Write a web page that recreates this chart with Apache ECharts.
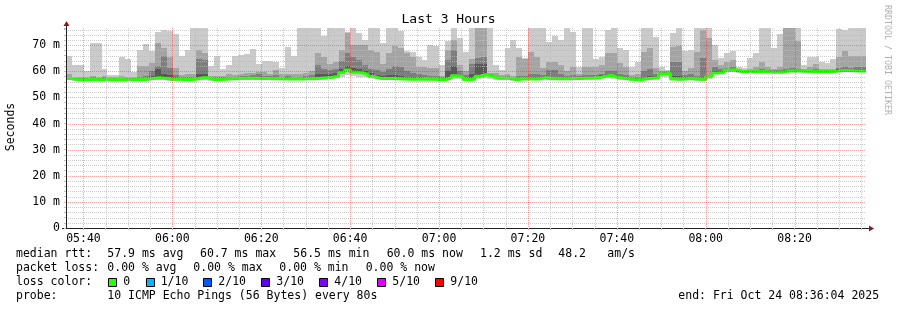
<!DOCTYPE html>
<html><head><meta charset="utf-8">
<script src="https://cdn.jsdelivr.net/npm/echarts@6/dist/echarts.min.js"></script>
<style>html,body{margin:0;padding:0;background:#fff}#c{width:897px;height:310px}</style>
</head><body><div id="c"></div>
<script>
// ---- data (SmokePing, 10 pings per 80 s step, values in ms) ----
const startLabel = '05:36:04';
const stepSeconds = 80;
const xTickLabels = ['05:40','06:00','06:20','06:40','07:00','07:20','07:40','08:00','08:20'];
const yTickLabels = ['0','10 m','20 m','30 m','40 m','50 m','60 m','70 m'];
// highest ping (outer smoke top)
const pingMax = [66.0,62.4,62.4,60.0,70.9,70.9,61.0,58.5,58.6,65.5,64.6,59.8,68.0,70.4,67.7,75.0,75.9,75.5,74.4,65.8,68.0,76.5,76.5,76.5,62.0,65.8,61.0,62.6,66.0,66.3,66.5,68.5,62.8,64.0,64.0,63.7,61.2,69.4,66.0,76.5,76.5,76.5,76.5,73.4,76.5,76.5,76.5,75.0,76.5,74.6,72.0,76.5,76.5,71.0,76.5,76.5,75.5,67.8,67.5,65.4,64.4,70.2,69.8,62.6,71.6,76.5,72.9,67.5,76.5,76.5,76.5,76.5,62.5,60.5,68.8,72.0,68.8,65.0,76.5,76.5,76.5,71.4,73.7,72.0,76.5,75.2,61.8,76.5,76.5,64.7,65.4,75.9,76.5,68.8,68.2,61.8,63.7,76.5,76.5,73.3,61.5,60.5,74.6,76.5,67.8,68.2,76.5,76.5,76.5,70.0,65.0,66.9,67.8,61.8,61.4,65.0,67.2,76.5,76.5,68.8,74.3,76.5,76.5,76.5,62.5,65.6,65.6,63.7,63.1,64.7,76.2,75.9,76.5,76.5,76.5];
// 9th ping
const ping9 = [58.8,58.0,58.0,58.0,58.2,58.0,58.2,57.8,57.8,58.3,58.0,58.0,62.0,62.0,63.2,71.0,68.8,65.6,61.2,58.5,59.0,58.8,68.0,67.2,58.4,58.2,58.4,58.8,58.6,58.8,59.2,59.5,59.9,59.8,59.0,60.4,58.8,59.0,58.8,58.8,59.2,60.3,66.9,65.6,62.7,63.5,68.2,74.6,70.1,70.1,70.1,68.2,67.5,63.0,66.9,69.8,68.8,66.9,65.6,61.8,61.8,61.4,61.2,58.4,68.2,72.0,62.5,60.0,64.6,76.5,76.5,59.2,59.2,58.6,58.8,58.4,65.6,64.8,67.5,65.6,61.2,63.7,63.7,62.5,60.0,61.8,59.0,61.8,61.8,61.8,62.5,66.9,66.9,63.1,61.8,58.6,58.8,67.5,68.8,61.2,60.0,60.0,69.4,69.8,60.0,61.2,67.5,75.9,72.7,64.4,62.5,63.5,64.4,60.8,60.6,61.0,61.5,63.7,61.8,61.0,61.8,76.5,76.5,71.6,61.0,61.8,62.7,61.0,60.8,61.0,65.6,67.8,66.0,66.0,66.0];
// 8th ping
const ping8 = [58.0,57.6,57.5,57.6,57.7,57.6,57.7,57.5,57.5,57.6,57.6,57.6,58.0,58.2,60.0,62.0,66.0,61.2,58.5,57.8,58.0,58.0,64.6,64.4,57.8,57.7,57.8,58.0,58.0,58.2,58.4,58.6,58.8,58.4,58.2,58.6,58.0,58.2,58.0,58.0,58.2,58.6,62.5,61.0,60.5,61.0,64.0,67.0,65.6,64.4,62.5,61.0,60.5,59.8,61.0,62.0,61.5,60.0,59.5,59.0,58.6,58.4,58.4,57.8,64.4,68.2,60.0,58.6,62.7,65.0,65.6,58.8,58.4,58.0,58.2,57.6,58.2,58.4,59.0,58.8,58.6,60.5,60.5,59.0,58.4,58.6,58.2,58.6,58.6,58.6,59.0,60.0,60.0,59.0,58.6,57.8,57.9,60.0,61.0,59.0,59.6,59.8,63.5,63.5,58.6,59.0,58.4,65.0,58.6,61.8,61.0,61.4,61.6,60.4,60.4,60.5,60.6,60.8,60.6,60.5,60.6,61.0,61.2,61.0,60.6,60.6,60.8,60.5,60.5,60.6,61.2,61.8,61.4,61.8,61.8];
// 7th ping
const ping7 = [57.7,57.2,57.2,57.2,57.2,57.2,57.3,57.2,57.2,57.2,57.2,57.2,57.4,57.5,58.4,60.8,59.0,58.5,57.8,57.3,57.4,57.5,59.0,58.8,57.3,57.3,57.4,57.6,57.6,57.8,57.9,58.0,58.0,57.8,57.7,57.8,57.6,57.7,57.6,57.6,57.7,57.9,58.8,58.8,59.0,59.3,60.8,62.0,61.2,61.0,60.3,59.4,58.6,58.3,58.5,58.6,58.4,58.0,57.8,57.7,57.6,57.6,57.5,57.3,60.0,62.0,58.6,57.6,58.8,62.7,63.0,58.4,57.8,57.7,57.8,57.2,57.6,57.6,57.8,57.7,58.0,58.0,58.0,57.8,57.7,57.8,57.7,57.8,57.8,57.9,58.5,59.0,58.6,58.0,57.6,57.3,57.3,58.0,58.2,58.2,59.3,59.5,58.4,58.2,57.7,57.8,57.6,58.0,58.4,60.0,60.2,60.9,61.0,60.2,60.2,60.2,60.3,60.3,60.2,60.1,60.1,60.6,60.6,60.5,60.3,60.3,60.3,60.2,60.2,60.3,60.8,60.9,60.7,60.8,60.8];
// median rtt
const median = [57.3,56.8,56.8,56.9,56.9,56.8,56.9,56.8,56.9,56.8,56.8,56.9,56.9,57.0,57.4,57.5,57.3,57.0,57.0,56.9,56.9,57.0,57.5,57.5,56.9,56.9,57.0,57.2,57.2,57.4,57.4,57.4,57.3,57.3,57.2,57.3,57.1,57.1,57.1,57.1,57.2,57.2,57.4,57.5,57.7,58.1,59.6,60.5,59.7,59.5,58.8,58.0,57.4,57.3,57.3,57.2,57.1,57.0,57.0,57.0,57.0,57.0,56.9,56.8,57.4,58.3,57.8,56.9,57.0,58.1,58.8,58.1,57.4,57.4,57.4,56.8,57.1,57.1,57.1,57.1,57.6,57.2,57.2,57.2,57.2,57.3,57.3,57.4,57.4,57.5,58.1,58.5,57.8,57.4,57.1,56.9,56.8,57.2,57.4,57.5,59.0,59.2,57.1,57.0,57.2,57.2,57.0,57.0,58.0,59.4,59.6,60.5,60.6,59.9,59.9,59.9,59.9,59.9,59.7,59.7,59.7,60.1,60.1,60.1,60.0,59.9,59.9,59.9,59.9,60.0,60.3,60.3,60.2,60.1,60.1];
// lowest ping (smoke bottom)
const pingMin = [56.6,56.2,56.3,56.4,56.3,56.2,56.4,56.3,56.3,56.3,56.4,56.4,56.4,56.4,56.6,56.7,56.6,56.4,56.4,56.5,56.4,56.4,56.8,56.8,56.4,56.4,56.4,56.6,56.6,56.8,56.8,56.8,56.7,56.7,56.7,56.7,56.6,56.6,56.6,56.6,56.7,56.7,56.8,56.9,57.0,57.3,58.0,58.5,58.2,58.0,57.8,57.3,56.9,56.8,56.8,56.8,56.7,56.6,56.6,56.5,56.5,56.5,56.5,56.3,56.8,57.2,57.0,56.4,56.5,57.2,57.6,57.2,56.8,56.8,56.8,56.2,56.6,56.6,56.6,56.6,57.0,56.7,56.7,56.7,56.7,56.8,56.8,56.9,56.9,57.0,57.4,57.6,57.2,56.8,56.6,56.4,56.3,56.6,56.8,56.9,57.8,58.0,56.5,56.4,56.6,56.6,56.4,56.4,57.2,58.8,59.0,59.8,59.8,59.4,59.4,59.4,59.4,59.4,59.2,59.2,59.2,59.6,59.6,59.6,59.5,59.4,59.4,59.4,59.4,59.5,59.8,59.8,59.7,59.6,59.6];

const legendRows = [
  ['median rtt:', '57.9 ms avg', '60.7 ms max', '56.5 ms min', '60.0 ms now', '1.2 ms sd', '48.2', 'am/s'],
  ['packet loss:', '0.00 % avg', '0.00 % max', '0.00 % min', '0.00 % now']
];
const lossLabels = ['0','1/10','2/10','3/10','4/10','5/10','9/10'];
const lossColors = ['#26ff00','#00b8ff','#0059ff','#5e00ff','#7e00ff','#dd00ff','#ff0000'];
const probeText = '10 ICMP Echo Pings (56 Bytes) every 80s';
const endText = 'end: Fri Oct 24 08:36:04 2025';

// ---- helpers ----
function hm(s){ const p = s.split(':').map(Number); return p[0]*60 + p[1] + (p[2]||0)/60; }
const startMin = hm(startLabel);
const stepMin = stepSeconds/60;
const spanMin = 180;
const endMin = startMin + spanMin;
const yMax = 76.6;
function fmt(v){ const m = Math.round(v); const h = Math.floor(m/60), mm = m%60; return String(h).padStart(2,'0')+':'+String(mm).padStart(2,'0'); }
const labelValues = xTickLabels.map(hm);
const minorValues = [];
for (let v = labelValues[0]; v < endMin; v += 5) minorValues.push(v);
const xMinorGrid = minorValues.filter(v => labelValues.indexOf(v) < 0);
const yMajorGrid = yTickLabels.map((t,i)=>i*10).filter(v=>v>0);
const yMinorGrid = [];
for (let v = 2; v < yMax; v += 2) if (v % 10 !== 0) yMinorGrid.push(v);

const FONT = "'DejaVu Sans Mono', monospace";
const RED = 'rgba(255,0,0,0.36)';
const GRAY = 'rgba(185,185,185,0.75)';

function band(name, color, bottoms, tops, z){
  const data = tops.map((t,i)=>[startMin + i*stepMin, startMin + (i+1)*stepMin, bottoms[i], t]);
  return {
    type:'custom', name, silent:true, clip:true, z,
    encode:{x:[0,1], y:[2,3]},
    renderItem(params, api){
      const a = api.coord([api.value(0), api.value(3)]);
      const b = api.coord([api.value(1), api.value(2)]);
      const x0 = Math.round(a[0]), x1 = Math.round(b[0]);
      const y0 = Math.round(a[1]), y1 = Math.round(b[1]);
      return { type:'rect', shape:{x:x0, y:y0, width:x1-x0, height:Math.max(0,y1-y0)}, style:{fill:color} };
    },
    data
  };
}
function vGrid(name, values, color){
  return { type:'custom', name, silent:true, z:8, encode:{x:0, y:1},
    data: values.map(v=>[v, 0]),
    renderItem(params, api){
      const cs = params.coordSys;
      const x = Math.round(api.coord([api.value(0), 0])[0]) + 0.5;
      return { type:'line', shape:{x1:x, y1:cs.y, x2:x, y2:cs.y+cs.height}, style:{stroke:color, lineWidth:1, lineDash:[1,1]} };
    } };
}
function hGrid(name, values, color){
  return { type:'custom', name, silent:true, z:8, encode:{x:1, y:0},
    data: values.map(v=>[v, startMin]),
    renderItem(params, api){
      const cs = params.coordSys;
      const y = Math.round(api.coord([startMin, api.value(0)])[1]) + 0.5;
      return { type:'line', shape:{x1:cs.x, y1:y, x2:cs.x+cs.width, y2:y}, style:{stroke:color, lineWidth:1, lineDash:[1,1]} };
    } };
}

const medLine = median.map((m,i)=>[startMin + i*stepMin, m]);
medLine.push([endMin, median[median.length-1]]);

const graphics = [];
function txt(x,y,t){ graphics.push({type:'text', x, y, silent:true, style:{text:t, font:'11.5px '+FONT, fill:'#000', align:'left', verticalAlign:'middle'}}); }
graphics.push({type:'text', x:448.5, y:20, style:{text:'Last 3 Hours', font:'13px '+FONT, fill:'#000', align:'center', verticalAlign:'middle'}});
graphics.push({type:'text', x:11, y:127, rotation:Math.PI/2, style:{text:'Seconds', font:'11.5px '+FONT, fill:'#000', align:'center', verticalAlign:'middle'}});
graphics.push({type:'text', x:887, y:60, rotation:-Math.PI/2, style:{text:'RRDTOOL / TOBI OETIKER', font:'8.3px '+FONT, fill:'#b0b0b0', align:'center', verticalAlign:'middle'}});
graphics.push({type:'line', shape:{x1:866, y1:228.5, x2:870, y2:228.5}, style:{stroke:'#222', lineWidth:1}});
graphics.push({type:'line', shape:{x1:66.5, y1:28, x2:66.5, y2:25}, style:{stroke:'#222', lineWidth:1}});
graphics.push({type:'line', shape:{x1:62, y1:228.5, x2:66, y2:228.5}, style:{stroke:'#222', lineWidth:1}});
graphics.push({type:'polygon', shape:{points:[[869,225.5],[874,228.5],[869,231.5]]}, style:{fill:'#8b1a1a'}});
graphics.push({type:'polygon', shape:{points:[[63.5,26],[66.5,21],[69.5,26]]}, style:{fill:'#8b1a1a'}});
const rowY = [254.3, 268.3, 282.3, 296];
const row0X = [16, 107.3, 200, 293.3, 386.7, 480, 558.3, 607.3];
const row1X = [16, 107.3, 193.3, 279.3, 365.7];
legendRows[0].forEach((t,i)=>txt(row0X[i], rowY[0], t));
legendRows[1].forEach((t,i)=>txt(row1X[i], rowY[1], t));
txt(16, rowY[2], 'loss color:');
const boxX = [108.3,145.7,203.3,261.3,319.3,377.3,435.3];
lossLabels.forEach((l,i)=>{
  graphics.push({type:'rect', shape:{x:Math.round(boxX[i])+0.5, y:278.5, width:8, height:8}, style:{fill:lossColors[i], stroke:'#000', lineWidth:1}});
  txt(boxX[i]+15, rowY[2], l);
});
txt(16, rowY[3], 'probe:');
txt(107.3, rowY[3], probeText);
txt(678.3, rowY[3], endText);

const chart = echarts.init(document.getElementById('c'), null, {renderer:'canvas'});
chart.setOption({
  animation:false,
  backgroundColor:'#fff',
  grid:{left:66, right:31, top:28, bottom:82, containLabel:false},
  xAxis:{
    type:'value', min:startMin, max:endMin, z:10,
    axisLine:{show:true, onZero:false, lineStyle:{color:'#222', width:1}},
    axisTick:{show:true, customValues:minorValues, length:2, lineStyle:{color:'#c0c0c0'}},
    axisLabel:{show:true, customValues:labelValues, formatter:fmt, fontFamily:FONT, fontSize:11.5, color:'#000', margin:5},
    splitLine:{show:false}
  },
  yAxis:{
    type:'value', min:0, max:yMax, interval:2, z:10,
    axisLine:{show:true, lineStyle:{color:'#222', width:1}},
    axisTick:{show:true, length:2, lineStyle:{color:'#c0c0c0'}},
    axisLabel:{show:true, fontFamily:FONT, fontSize:11.5, color:'#000', margin:6,
      formatter:v=> (Math.abs(v%10)<1e-9 ? yTickLabels[Math.round(v/10)] : '')},
    splitLine:{show:false}
  },
  series:[
    band('smoke1','#cacaca', pingMin, pingMax, 1),
    band('smoke2','#a4a4a4', median, ping9, 1),
    band('smoke3','#7e7e7e', median, ping8, 1),
    band('smoke4','#585858', median, ping7, 1),
    {type:'line', name:'median', data:medLine, step:'end', showSymbol:false, symbol:'none', silent:true, z:3,
     lineStyle:{color:'#26ff00', width:3}},
    vGrid('xMinor', xMinorGrid, GRAY),
    hGrid('yMinor', yMinorGrid, GRAY),
    vGrid('xMajor', labelValues, RED),
    hGrid('yMajor', yMajorGrid, RED)
  ],
  graphic:graphics
});
</script></body></html>
